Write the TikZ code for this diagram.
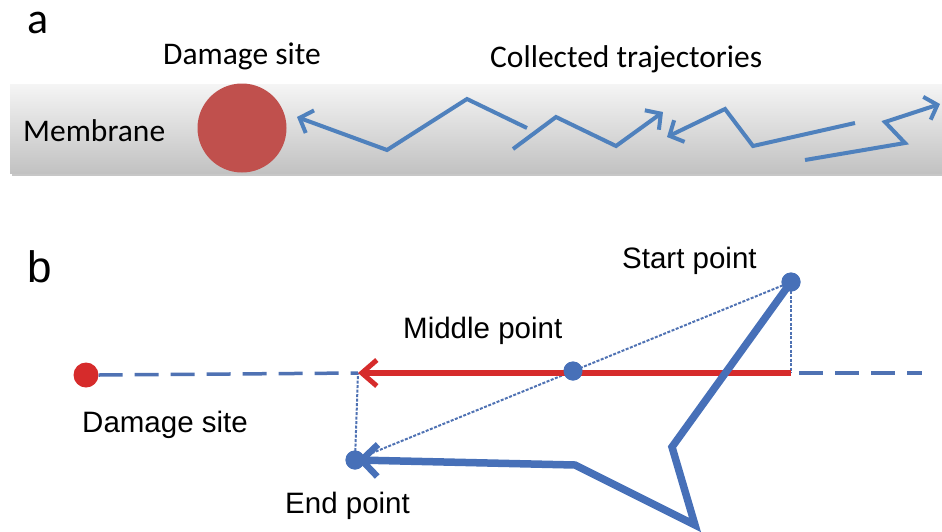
\documentclass[tikz,border=0pt]{standalone}
\usepackage{fontspec}
\setmainfont{Liberation Sans}
\newfontfamily\calfont{Carlito}
\usetikzlibrary{arrows.meta}
\definecolor{offred}{HTML}{C0504D}
\definecolor{offblue}{HTML}{4F81BD}
\definecolor{bblue}{HTML}{4770B8}
\definecolor{bred}{HTML}{D62B2B}
\definecolor{dashblue}{HTML}{4F72B3}
\tikzset{
  calib/.style={inner sep=0pt, anchor=base west, font=\calfont\fontsize{31.5}{36}\selectfont},
  ariallbl/.style={inner sep=0pt, anchor=base west, font=\fontsize{29.5}{34}\selectfont},
  panellbl/.style={inner sep=0pt, anchor=base west, font=\fontsize{44}{50}\selectfont},
  traj/.style={draw=offblue, line width=4pt, line join=miter, -{Straight Barb[length=11pt,width=24pt,line width=4pt]}},
  bdot/.style={circle, fill=bblue, inner sep=0pt, minimum size=19pt},
  thindot/.style={draw=dashblue, line width=2pt, dash pattern=on 3pt off 1.5pt},
}
\begin{document}
\begin{tikzpicture}[x=1pt,y=-1pt]
\useasboundingbox (0,0) rectangle (942,531);
% ---------- panel a ----------
\node[panellbl, font=\calfont\fontsize{44}{50}\selectfont] (la) at (27,33) {a};
% membrane bar with shadow
\fill[black!22] (12,87) rectangle (942,176);
\shade[top color=black!4, bottom color=black!24] (10,84) rectangle (942,173);
\node[calib] (memb) at (23,141) {Membrane};
\node[calib] (dsa) at (163,64) {Damage site};
\node[calib] (coll) at (490,67) {Collected trajectories};
\node[circle, fill=offred, inner sep=0pt, minimum size=89pt] (site) at (242,128) {};
% trajectory 1
\coordinate (t1a) at (527,128);
\coordinate (t1b) at (467,99);
\coordinate (t1c) at (387,150);
\coordinate (t1d) at (297,117);
\draw[traj] (t1a) -- (t1b) -- (t1c) -- (t1d);
% trajectory 2
\coordinate (t2a) at (513,149);
\coordinate (t2b) at (556,117);
\coordinate (t2c) at (616,146);
\coordinate (t2d) at (663,112);
\draw[traj] (t2a) -- (t2b) -- (t2c) -- (t2d);
% trajectory 3
\coordinate (t3a) at (855,123);
\coordinate (t3b) at (753,146);
\coordinate (t3c) at (725,109);
\coordinate (t3d) at (667,137);
\draw[traj] (t3a) -- (t3b) -- (t3c) -- (t3d);
% trajectory 4
\coordinate (t4a) at (805,160);
\coordinate (t4b) at (905,143);
\coordinate (t4c) at (885,122);
\coordinate (t4d) at (940,104);
\draw[traj] (t4a) -- (t4b) -- (t4c) -- (t4d);
% ---------- panel b ----------
\node[panellbl] (lb) at (27,282) {b};
\node[circle, fill=bred, inner sep=0pt, minimum size=25pt] (dsite) at (86,375) {};
\coordinate (axend) at (358,373);
\coordinate (axstart) at (791,373);
\coordinate (axright) at (922,373);
\draw[dashblue, line width=3.5pt, dash pattern=on 24pt off 12pt] (dsite.east) -- (axend);
\draw[dashblue, line width=3.5pt, dash pattern=on 24pt off 12pt] ([xshift=8pt]axstart) -- (axright);
% dotted construction lines
\node[bdot] (start) at (791,282) {};
\node[bdot] (endp) at (355,460) {};
\node[bdot] (mid) at (573,371) {};
\draw[thindot] (start.center) -- (endp.center);
\draw[thindot] (start.center) -- (axstart);
\draw[thindot] (endp.center) -- (axend);
% red displacement arrow
\draw[bred, line width=6pt, -{Straight Barb[length=15pt,width=26pt,line width=5pt]}] (axstart) -- (axend);
\node[bdot] at (mid) {};
% thick trajectory
\coordinate (p1) at (672,447);
\coordinate (p2) at (695,525);
\coordinate (p3) at (575,465);
\draw[bblue, line width=7.5pt, line join=miter, -{Straight Barb[length=16pt,width=32pt,line width=6.5pt]}] (start.center) -- (p1) -- (p2) -- (p3) -- ([xshift=2pt]endp.center);
\node[bdot] at (start) {};
\node[bdot] at (endp) {};
% labels
\node[ariallbl] (lstart) at (622,268) {Start point};
\node[ariallbl] (lmid) at (403,338) {Middle point};
\node[ariallbl] (ldsb) at (82,432) {Damage site};
\node[ariallbl] (lend) at (285,513) {End point};
\end{tikzpicture}
\end{document}
